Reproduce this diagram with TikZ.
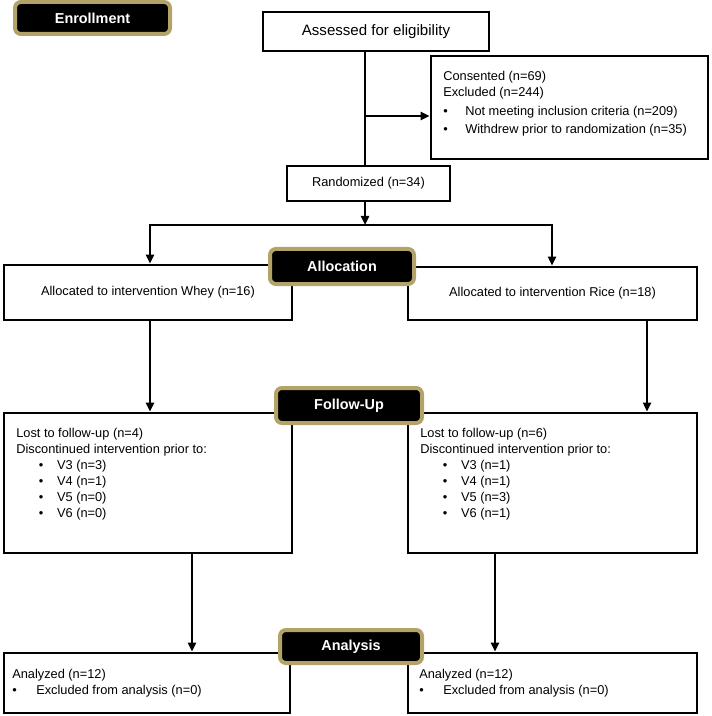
\documentclass[tikz,border=0pt]{standalone}
\usepackage{fontspec}
\setmainfont{Liberation Sans}
\usetikzlibrary{arrows.meta}
\definecolor{tagGold}{RGB}{179,163,105}
\newcommand\bul[3]{\hspace*{#1}\makebox[#2][l]{•}#3}
\tikzset{
  tagbox/.style={rectangle, rounded corners=4.5pt, fill=black, draw=tagGold, line width=3pt,
    text=white, font=\fontsize{10.8pt}{13pt}\selectfont\bfseries, inner sep=0pt},
  flowbox/.style={rectangle, draw=black, line width=2.2pt, fill=white, inner sep=0pt,
    font=\fontsize{9.6pt}{12pt}\selectfont},
  txt/.style={anchor=north west, align=left, inner sep=0pt, font=\fontsize{9.6pt}{12pt}\selectfont},
  conn/.style={draw=black, line width=2pt},
  arr/.style={conn, -{Triangle[length=6.75pt,width=6pt]}}
}
\begin{document}
\begin{tikzpicture}[x=0.75pt,y=-0.75pt]
\useasboundingbox (0,0) rectangle (711,716);

% boxes
\node[flowbox, minimum width=169.5pt, minimum height=29.25pt,
  font=\fontsize{11.3pt}{13pt}\selectfont] (assess) at (376,31.5) {Assessed for eligibility};
\node[flowbox, minimum width=207.75pt, minimum height=77.25pt] (excl) at (569.5,107.5) {};
\node[flowbox, minimum width=122.25pt, minimum height=26.25pt] (rand) at (368.5,183.5) {Randomized (n=34)};
\node[flowbox, minimum width=216pt, minimum height=41.25pt] (whey) at (148,292.5) {Allocated to intervention Whey (n=16)};
\node[flowbox, minimum width=216.75pt, minimum height=39.75pt] (rice) at (552.5,293.5) {Allocated to intervention Rice (n=18)};
\node[flowbox, minimum width=216pt, minimum height=105pt] (fuL) at (148,483) {};
\node[flowbox, minimum width=216.75pt, minimum height=105pt] (fuR) at (552.5,483) {};
\node[flowbox, minimum width=214.5pt, minimum height=45pt] (anL) at (147,683) {};
\node[flowbox, minimum width=216.75pt, minimum height=45pt] (anR) at (552.5,683) {};

% texts inside boxes
\node[txt] (exclT) at (443,70.5) {Consented (n=69)\\
  Excluded (n=244)\\[2.25pt]
  \bul{0pt}{16.5pt}{Not meeting inclusion criteria (n=209)}\\[1.5pt]
  \bul{0pt}{16.5pt}{Withdrew prior to randomization (n=35)}};
\node[txt] (fuLT) at (16,427.5) {Lost to follow-up (n=4)\\
  Discontinued intervention prior to:\\
  \bul{17pt}{13.6pt}{V3 (n=3)}\\
  \bul{17pt}{13.6pt}{V4 (n=1)}\\
  \bul{17pt}{13.6pt}{V5 (n=0)}\\
  \bul{17pt}{13.6pt}{V6 (n=0)}};
\node[txt] (fuRT) at (420,427.5) {Lost to follow-up (n=6)\\
  Discontinued intervention prior to:\\
  \bul{17pt}{13.6pt}{V3 (n=1)}\\
  \bul{17pt}{13.6pt}{V4 (n=1)}\\
  \bul{17pt}{13.6pt}{V5 (n=3)}\\
  \bul{17pt}{13.6pt}{V6 (n=1)}};
\node[txt] (anLT) at (12,668.5) {Analyzed (n=12)\\
  \bul{0pt}{18pt}{Excluded from analysis (n=0)}};
\node[txt] (anRT) at (419,668.5) {Analyzed (n=12)\\
  \bul{0pt}{18pt}{Excluded from analysis (n=0)}};

% connectors
\coordinate (j1) at (365,116);
\coordinate (split) at (365,225);
\coordinate (hl) at (150,225);
\coordinate (hr) at (552,225);
\coordinate (cL1) at (150,0);
\coordinate (cR1) at (647,0);
\coordinate (cL2) at (192,0);
\coordinate (cR2) at (495,0);

\draw[conn] (assess.south -| j1) -- (rand.north -| j1);
\draw[arr] (j1) -- (excl.west |- j1);
\draw[arr] (rand.south -| split) -- (split);
\draw[conn, line cap=rect] (hl) -- (hr);
\draw[arr] (hl) -- (whey.north -| hl);
\draw[arr] (hr) -- (rice.north -| hr);
\draw[arr] (whey.south -| cL1) -- (fuL.north -| cL1);
\draw[arr] (rice.south -| cR1) -- (fuR.north -| cR1);
\draw[arr] (fuL.south -| cL2) -- (anL.north -| cL2);
\draw[arr] (fuR.south -| cR2) -- (anR.north -| cR2);

% stage tags
\node[tagbox, minimum width=116.25pt, minimum height=24pt] (enroll) at (92.5,18) {Enrollment};
\node[tagbox, minimum width=108pt, minimum height=26.25pt] (alloc) at (342,266.5) {Allocation};
\node[tagbox, minimum width=109.5pt, minimum height=26.25pt] (follow) at (349,405.5) {Follow-Up};
\node[tagbox, minimum width=106.5pt, minimum height=24.75pt] (analysis) at (351,646.5) {Analysis};
\end{tikzpicture}
\end{document}
